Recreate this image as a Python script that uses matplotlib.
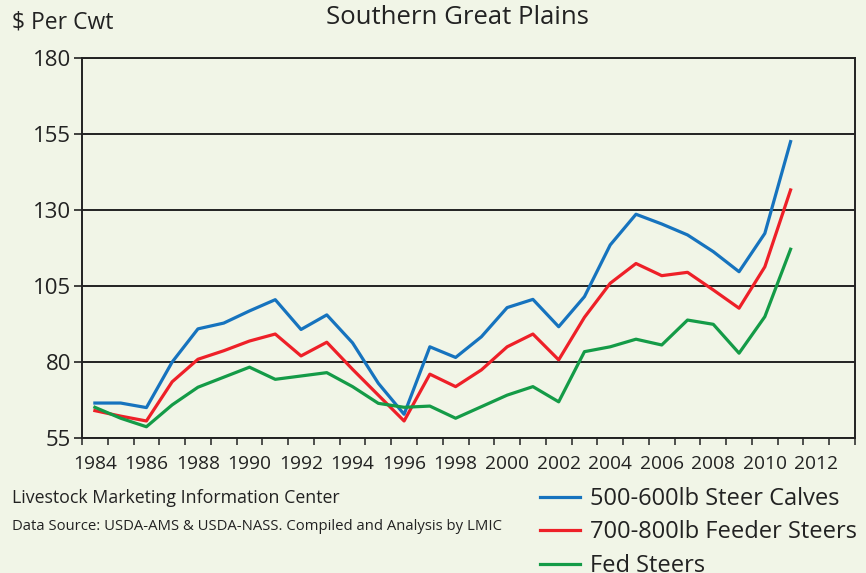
import numpy as np
import matplotlib.pyplot as plt

plt.rcParams['font.family'] = ['Open Sans', 'DejaVu Sans']

# Annual average prices, $ per cwt
years = list(range(1984, 2012))
steer_calves = [66.5, 66.5, 65.0, 80.0, 90.9, 92.8, 96.8, 100.5, 90.7, 95.5,
                86.3, 73.0, 62.8, 85.0, 81.5, 88.3, 97.9, 100.6, 91.6, 101.5,
                118.5, 128.6, 125.4, 121.8, 116.3, 109.7, 122.3, 152.5]
feeder_steers = [64.0, 62.2, 60.6, 73.5, 80.9, 83.7, 86.9, 89.2, 82.0, 86.5,
                 77.6, 69.1, 60.6, 76.0, 71.9, 77.4, 85.0, 89.2, 80.7, 94.7,
                 105.9, 112.4, 108.4, 109.5, 103.7, 97.7, 111.3, 136.6]
fed_steers = [65.1, 61.5, 58.7, 65.9, 71.7, 75.0, 78.3, 74.3, 75.4, 76.5,
              71.9, 66.4, 65.1, 65.5, 61.5, 65.3, 69.1, 71.9, 66.9, 83.4,
              85.0, 87.5, 85.6, 93.8, 92.4, 82.9, 94.9, 117.1]

series_names = ['500-600lb Steer Calves', '700-800lb Feeder Steers', 'Fed Steers']
colors = ['#1673BE', '#EE2028', '#149B47']
yticks = [55, 80, 105, 130, 155, 180]
xlabels = list(range(1984, 2013, 2))

bg = '#F1F5E7'
fig = plt.figure(figsize=(8.66, 5.73), dpi=100, facecolor=bg)
ax = fig.add_axes([82 / 866, 1 - 438 / 573, (855 - 82) / 866, (438 - 58) / 573])
ax.set_facecolor(bg)

for vals, name, c in zip([steer_calves, feeder_steers, fed_steers], series_names, colors):
    ax.plot(years, vals, color=c, lw=2.3, label=name, solid_joinstyle='round', zorder=3)

ax.set_xlim(1983.5, 2013.5)
ax.set_ylim(55, 180)
ax.set_yticks(yticks)
ax.yaxis.grid(True, color='#222222', lw=1.4, zorder=1)
ax.tick_params(axis='y', length=6, width=1.2, labelsize=16, pad=2, colors='#222222')

ax.set_xticks(xlabels)
ax.set_xticks(np.arange(1983.5, 2014, 1), minor=True)
ax.tick_params(axis='x', which='major', length=0, labelsize=13.8, pad=12, colors='#222222')
ax.tick_params(axis='x', which='minor', length=5, width=1.1, color='#222222')

for s in ax.spines.values():
    s.set_color('#222222')
    s.set_linewidth(1.4)

fig.text(12 / 866, 1 - 22 / 573, '$ Per Cwt', fontsize=16.5, va='center', ha='left', color='#222222')
fig.text(457 / 866, 1 - 17 / 573, 'Southern Great Plains', fontsize=18.5, va='center', ha='center', color='#222222')
fig.text(12 / 866, 1 - 498 / 573, 'Livestock Marketing Information Center', fontsize=12.8,
         va='center', ha='left', color='#222222')
fig.text(12 / 866, 1 - 526 / 573, 'Data Source: USDA-AMS & USDA-NASS. Compiled and Analysis by LMIC',
         fontsize=10.7, va='center', ha='left', color='#222222')

fig.legend(loc='upper left', bbox_to_anchor=(540 / 866, 1 - 487 / 573), frameon=False,
           fontsize=17, handlelength=1.7, handletextpad=0.42, labelspacing=0.4,
           borderpad=0, borderaxespad=0, labelcolor='#222222')

fig.savefig('out.png', dpi=100, facecolor=bg)
